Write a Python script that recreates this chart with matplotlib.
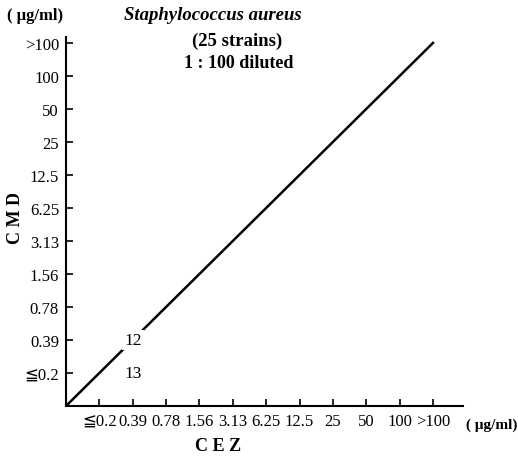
import matplotlib
matplotlib.use('Agg')
import matplotlib.pyplot as plt

# MIC categories (same for both drugs)
x_labels = ['≦0.2', '0.39', '0.78', '1.56', '3.13', '6.25', '12.5', '25', '50', '100', '>100']
y_labels = ['≦0.2', '0.39', '0.78', '1.56', '3.13', '6.25', '12.5', '25', '50', '100', '>100']

# strain counts: (CEZ index, CMD index, count)
cez_idx = [2, 2]
cmd_idx = [2, 1]
counts = [12, 13]

# line of identity
line_x = [0, 11]
line_y = [0, 11]

plt.rcParams['font.family'] = ['Liberation Serif', 'DejaVu Serif']
sym = ['DejaVu Sans', 'Noto Sans CJK JP']

fig = plt.figure(figsize=(5.18, 4.60), dpi=100)
ax = fig.add_axes([66/518, 53/460, 397/518, 369/460])

ax.plot(line_x, line_y, color='black', lw=1.8, zorder=1)
for cx, cy, n in zip(cez_idx, cmd_idx, counts):
    ax.text(cx, cy, str(n), ha='center', va='center', fontsize=12.5,
            bbox=dict(facecolor='white', edgecolor='none', pad=1.5), zorder=3)

ax.set_xlim(0, 11.9)
ax.set_ylim(0, 11.18)
ax.set_xticks(range(1, 12))
ax.set_xticklabels(x_labels, fontsize=12, family=['Liberation Serif', 'DejaVu Sans'])
ax.set_yticks(range(1, 12))
ax.set_yticklabels(y_labels, fontsize=12, family=['Liberation Serif', 'DejaVu Sans'])
ax.tick_params(direction='in', length=5, width=1.2, pad=5)
for s in ['top', 'right']:
    ax.spines[s].set_visible(False)
for s in ['left', 'bottom']:
    ax.spines[s].set_linewidth(1.5)

fig.text(218/518, 1 - 447/460, 'C E Z', ha='center', va='center', fontsize=13, fontweight='bold')
fig.text(16/518, 1 - 218/460, 'C M D', ha='center', va='center', fontsize=13,
         fontweight='bold', rotation=90)

fig.text(63/518, 1 - 16/460, '( μg/ml)', ha='right', va='center', fontsize=12, fontweight='bold')
fig.text(517/518, 1 - 425/460, '( μg/ml)', ha='right', va='center', fontsize=11, fontweight='bold')

fig.text(213/518, 1 - 16/460, 'Staphylococcus aureus', ha='center', va='center',
         fontsize=13.5, fontweight='bold', style='italic')
fig.text(237/518, 1 - 41/460, '(25 strains)', ha='center', va='center', fontsize=13.5, fontweight='bold')
fig.text(239/518, 1 - 64/460, '1 : 100 diluted', ha='center', va='center', fontsize=13, fontweight='bold')

fig.savefig('out.png', dpi=100)
